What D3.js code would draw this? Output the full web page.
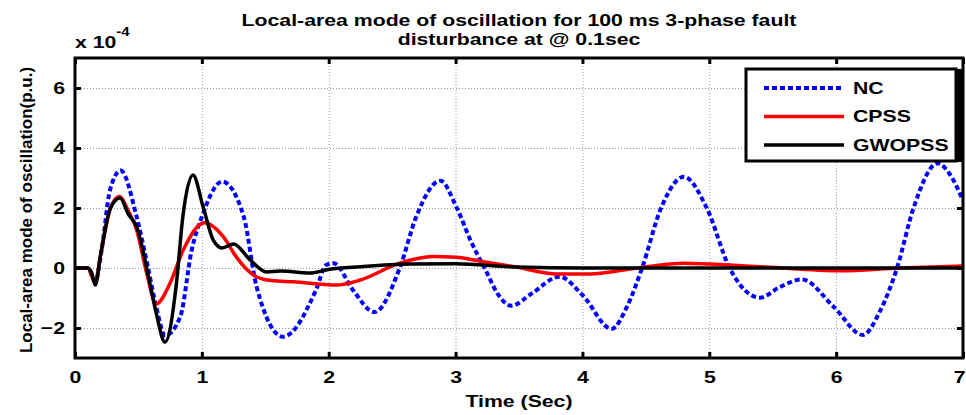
<!DOCTYPE html>
<html>
<head>
<meta charset="utf-8">
<script src="https://cdn.jsdelivr.net/npm/d3@7"></script>
<style>
  body { margin: 0; background: #fff; }
  svg { font-family: "Liberation Sans", Arial, sans-serif; font-weight: bold; }
  .grid line { stroke: #999; stroke-width: 1; stroke-dasharray: 1,2; }
  .grid path { display: none; }
  .axis path { display: none; }
  .axis line { stroke: #000; stroke-width: 3; }
  .axis text { font-size: 17px; font-weight: bold; fill: #000; }
  .line { fill: none; }
  .nc { stroke: #0000ff; stroke-width: 4; stroke-dasharray: 5,3; }
  .cpss { stroke: #ff0000; stroke-width: 3.5; }
  .gwopss { stroke: #000; stroke-width: 3.5; }
</style>
</head>
<body>
<svg class="svg1" width="966" height="415"></svg>
<script>
// Time ticks and y ticks (x 10^-4)
const xTicks = [0, 1, 2, 3, 4, 5, 6, 7];
const yTicks = [-2, 0, 2, 4, 6];

// NC (no controller)
const dataNC = [
    { t: 0, v: 0 }, { t: 0.1, v: 0 }, { t: 0.16, v: -0.45 }, { t: 0.21, v: 0.6 },
    { t: 0.276, v: 2.6 }, { t: 0.36, v: 3.25 }, { t: 0.486, v: 1.71 }, { t: 0.576, v: 0 },
    { t: 0.64, v: -1.29 }, { t: 0.71, v: -2.25 }, { t: 0.83, v: -1.62 }, { t: 0.92, v: 0.6 },
    { t: 1.0, v: 1.71 }, { t: 1.16, v: 2.88 }, { t: 1.33, v: 1.71 }, { t: 1.43, v: -0.6 },
    { t: 1.64, v: -2.29 }, { t: 1.9, v: -0.73 }, { t: 1.98, v: 0.1 }, { t: 2.04, v: 0.16 },
    { t: 2.19, v: -0.73 }, { t: 2.36, v: -1.47 }, { t: 2.56, v: 0 }, { t: 2.69, v: 1.71 },
    { t: 2.88, v: 2.91 }, { t: 3.01, v: 2.0 }, { t: 3.12, v: 0.9 }, { t: 3.24, v: -0.1 },
    { t: 3.33, v: -0.85 }, { t: 3.44, v: -1.26 }, { t: 3.6, v: -0.85 }, { t: 3.82, v: -0.29 },
    { t: 4.0, v: -0.9 }, { t: 4.23, v: -2.03 }, { t: 4.35, v: -1.3 }, { t: 4.47, v: 0 },
    { t: 4.62, v: 2.0 }, { t: 4.8, v: 3.04 }, { t: 4.98, v: 2.0 }, { t: 5.16, v: 0 },
    { t: 5.4, v: -0.99 }, { t: 5.55, v: -0.65 }, { t: 5.73, v: -0.38 }, { t: 5.98, v: -1.29 },
    { t: 6.21, v: -2.23 }, { t: 6.35, v: -1.4 }, { t: 6.48, v: 0 }, { t: 6.61, v: 2.0 },
    { t: 6.8, v: 3.49 }, { t: 6.9, v: 3.1 }, { t: 7.0, v: 2.25 }
];

// CPSS
const dataCPSS = [
    { t: 0, v: 0 }, { t: 0.1, v: 0 }, { t: 0.16, v: -0.5 }, { t: 0.2, v: 0.4 },
    { t: 0.28, v: 2.0 }, { t: 0.35, v: 2.38 }, { t: 0.42, v: 1.9 }, { t: 0.486, v: 1.27 },
    { t: 0.565, v: -0.17 }, { t: 0.64, v: -1.2 }, { t: 0.75, v: -0.5 }, { t: 0.853, v: 0.6 },
    { t: 1.02, v: 1.51 }, { t: 1.17, v: 1.04 }, { t: 1.27, v: 0.38 }, { t: 1.36, v: -0.07 },
    { t: 1.43, v: -0.29 }, { t: 1.55, v: -0.42 }, { t: 1.72, v: -0.46 }, { t: 2.06, v: -0.57 },
    { t: 2.25, v: -0.4 }, { t: 2.56, v: 0.16 }, { t: 2.82, v: 0.38 }, { t: 3.0, v: 0.36 },
    { t: 3.22, v: 0.21 }, { t: 3.48, v: 0.03 }, { t: 3.8, v: -0.2 }, { t: 4.06, v: -0.2 },
    { t: 4.43, v: 0 }, { t: 4.8, v: 0.16 }, { t: 5.0, v: 0.13 }, { t: 5.45, v: 0.03 },
    { t: 6.03, v: -0.09 }, { t: 6.5, v: 0 }, { t: 7.0, v: 0.07 }
];

// GWOPSS
const dataGWOPSS = [
    { t: 0, v: 0 }, { t: 0.1, v: 0 }, { t: 0.13, v: -0.15 }, { t: 0.16, v: -0.57 },
    { t: 0.2, v: 0.4 }, { t: 0.28, v: 2.0 }, { t: 0.355, v: 2.33 }, { t: 0.42, v: 1.8 },
    { t: 0.486, v: 1.38 }, { t: 0.59, v: -0.5 }, { t: 0.64, v: -1.5 }, { t: 0.71, v: -2.47 },
    { t: 0.8, v: -0.5 }, { t: 0.85, v: 1.71 }, { t: 0.93, v: 3.1 }, { t: 1.01, v: 2.04 },
    { t: 1.09, v: 0.93 }, { t: 1.16, v: 0.67 }, { t: 1.25, v: 0.8 }, { t: 1.38, v: 0.27 },
    { t: 1.51, v: -0.13 }, { t: 1.62, v: -0.1 }, { t: 1.85, v: -0.17 }, { t: 2.0, v: -0.05 },
    { t: 2.25, v: 0.04 }, { t: 2.64, v: 0.13 }, { t: 3.0, v: 0.14 }, { t: 3.48, v: 0.03 },
    { t: 4.0, v: 0 }, { t: 7.0, v: 0 }
];

const series = [
    { name: "NC", cls: "nc", data: dataNC },
    { name: "CPSS", cls: "cpss", data: dataCPSS },
    { name: "GWOPSS", cls: "gwopss", data: dataGWOPSS }
];

// the source picture is stretched sideways, so text is widened to match
const stretch = "scale(1.25,1)";

const svg = d3.select(".svg1"),
    margin = { top: 58, right: 3, bottom: 57, left: 75 },
    width = +svg.attr("width") - margin.left - margin.right,
    height = +svg.attr("height") - margin.top - margin.bottom,
    g = svg.append("g").attr("transform", `translate(${margin.left},${margin.top})`);

const x = d3.scaleLinear().domain([0, 7]).range([0, width]);
const y = d3.scaleLinear().domain([-3, 7]).range([height, 0]);

// grid
g.append("g")
    .attr("class", "grid")
    .attr("transform", `translate(0,${height})`)
    .call(d3.axisBottom(x).tickValues(xTicks.slice(1, -1)).tickSize(-height).tickFormat(""));

g.append("g")
    .attr("class", "grid")
    .call(d3.axisLeft(y).tickValues(yTicks).tickSize(-width).tickFormat(""));

// lines
const line = d3.line()
    .x(d => x(d.t))
    .y(d => y(d.v))
    .curve(d3.curveMonotoneX);

series.forEach(s => {
    g.append("path")
        .datum(s.data)
        .attr("class", "line " + s.cls)
        .attr("d", line);
});

// axes, ticks pointing inward
const xLabels = g.append("g")
    .attr("class", "axis axis--x")
    .attr("transform", `translate(0,${height})`)
    .call(d3.axisBottom(x).tickValues(xTicks).tickFormat(d3.format("d"))
        .tickSizeInner(-6).tickSizeOuter(0).tickPadding(13))
    .selectAll("text").attr("transform", stretch);

// keep the last label inside the picture
xLabels.filter(d => d === 7).attr("x", -3);

g.append("g")
    .attr("class", "axis")
    .call(d3.axisTop(x).tickValues(xTicks).tickSizeInner(-6).tickSizeOuter(0).tickFormat(""));

g.append("g")
    .attr("class", "axis axis--y")
    .call(d3.axisLeft(y).tickValues(yTicks).tickSizeInner(-6).tickSizeOuter(0).tickPadding(8))
    .selectAll("text").attr("transform", stretch);

g.append("g")
    .attr("class", "axis")
    .attr("transform", `translate(${width},0)`)
    .call(d3.axisRight(y).tickValues(yTicks).tickSizeInner(-6).tickSizeOuter(0).tickFormat(""));

// frame
g.append("rect")
    .attr("width", width)
    .attr("height", height)
    .attr("fill", "none")
    .attr("stroke", "#000")
    .attr("stroke-width", 3);

function wideText(px, py, anchor, str) {
    return svg.append("text")
        .attr("transform", `translate(${px},${py}) ${stretch}`)
        .attr("text-anchor", anchor)
        .style("font-size", "17px")
        .text(str);
}

// exponent
const expo = wideText(margin.left, 48, "start", "x 10");
expo.append("tspan").attr("dy", -12).style("font-size", "12px").text("-4");

// title
wideText(margin.left + width / 2, 26, "middle", "Local-area mode of oscillation for 100 ms 3-phase fault");
wideText(margin.left + width / 2, 45, "middle", "disturbance at @ 0.1sec");

// axis labels
wideText(margin.left + width / 2, 407, "middle", "Time (Sec)");

svg.append("text")
    .attr("transform", `translate(32,${margin.top + height / 2 + 2}) rotate(-90)`)
    .attr("text-anchor", "middle")
    .style("font-size", "17px")
    .text("Local-area mode of oscillation(p.u.)");

// legend
const legend = svg.append("g").attr("class", "legend");
legend.append("rect")
    .attr("x", 955).attr("y", 69).attr("width", 8).attr("height", 93)
    .attr("fill", "#000");
legend.append("rect")
    .attr("x", 746).attr("y", 69).attr("width", 210).attr("height", 92)
    .attr("fill", "#fff")
    .attr("stroke", "#000")
    .attr("stroke-width", 3);

series.forEach((s, i) => {
    const ly = 88 + i * 28.5;
    legend.append("line")
        .attr("class", "line " + s.cls)
        .attr("x1", 764).attr("x2", 844)
        .attr("y1", ly).attr("y2", ly);
    wideText(853, ly, "start", s.name).attr("dy", "0.35em");
});
</script>
</body>
</html>
